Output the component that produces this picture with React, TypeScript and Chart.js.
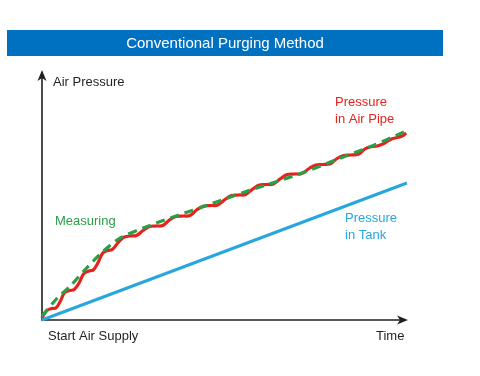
import React, { useEffect, useRef } from "react";
import { Chart, registerables } from "chart.js";

Chart.register(...registerables);

// Pressure in air pipe (wavy red line): time 0-100, pressure 0-100 (arbitrary units)
const pipeTime = [
  0, 1.2, 2.6, 3.8, 5.0, 6.2, 7.6, 8.8, 10.2, 11.4, 12.8, 14.0, 15.4, 16.6, 18.0, 19.2,
  20.8, 22.2, 24.0, 25.8, 27.6, 29.4, 31.2, 33.0, 34.8, 36.6, 38.6, 40.4, 42.4, 44.2,
  46.2, 48.0, 50.0, 51.8, 53.8, 55.6, 57.6, 59.4, 61.4, 63.2, 65.2, 67.0, 69.0, 71.0,
  73.0, 74.8, 76.8, 78.8, 80.6, 82.4, 84.4, 86.4, 88.2, 89.8, 91.6, 93.4, 95.2, 96.8,
  98.4, 99.5,
];
const pipePressure = [
  0.8, 3.6, 4.6, 4.8, 7.5, 11.0, 11.8, 12.2, 15.0, 18.5, 19.6, 20.0, 23.2, 26.8, 27.8, 28.2,
  31.0, 33.0, 33.6, 33.8, 35.8, 37.4, 37.6, 37.8, 40.0, 41.4, 41.6, 41.8, 44.2, 45.6,
  45.8, 46.0, 48.2, 49.8, 50.0, 50.2, 52.4, 54.0, 54.2, 54.4, 56.6, 58.2, 58.4, 58.6,
  60.6, 62.0, 62.2, 62.5, 64.6, 65.8, 66.0, 66.3, 68.4, 69.3, 69.6, 70.6, 72.2, 72.9,
  73.6, 74.8,
];

// Measuring (green dashed line)
const measTime = [0, 4, 8, 12, 16, 21, 28, 37, 45, 55, 64, 72, 81, 90, 99];
const measPressure = [1.5, 8.5, 14, 20.5, 26.5, 32.5, 37, 41.8, 45.8, 51, 55.3, 59.3, 64.5, 69.5, 75.3];

// Pressure in tank (blue straight line)
const tankTime = [0, 99.7];
const tankPressure = [0, 54.8];

const titleText = "Conventional Purging Method";
const yAxisLabel = "Air Pressure";
const xStartLabel = "Start Air Supply";
const xEndLabel = "Time";
const measLabel = ["Measuring"];
const pipeLabel = ["Pressure", "in Air Pipe"];
const tankLabel = ["Pressure", "in Tank"];

const FONT = '"Liberation Sans", Arial, Helvetica, sans-serif';
const AXIS_COLOR = "#231f20";
const RED = "#e5231d";
const GREEN = "#2b9e48";
const BLUE = "#29a6df";
const TITLE_BG = "#0070c0";

function zip(xs: number[], ys: number[]) {
  return xs.map((x, i) => ({ x, y: ys[i] }));
}

const decorPlugin = {
  id: "decor",
  beforeDraw(chart: any) {
    const ctx = chart.ctx as CanvasRenderingContext2D;
    ctx.save();
    ctx.fillStyle = "#ffffff";
    ctx.fillRect(0, 0, chart.width, chart.height);
    // title bar
    ctx.fillStyle = TITLE_BG;
    ctx.fillRect(7, 30, 436, 26);
    ctx.fillStyle = "#ffffff";
    ctx.font = `15px ${FONT}`;
    ctx.textAlign = "center";
    ctx.textBaseline = "middle";
    ctx.fillText(titleText, 225, 44);
    ctx.restore();
  },
  beforeDatasetsDraw(chart: any) {
    const ctx = chart.ctx as CanvasRenderingContext2D;
    const a = chart.chartArea;
    ctx.save();
    ctx.strokeStyle = AXIS_COLOR;
    ctx.fillStyle = AXIS_COLOR;
    ctx.lineWidth = 1.6;
    ctx.beginPath();
    ctx.moveTo(a.left, a.top + 6);
    ctx.lineTo(a.left, a.bottom);
    ctx.lineTo(a.right - 6, a.bottom);
    ctx.stroke();
    // y arrow
    ctx.beginPath();
    ctx.moveTo(a.left, a.top);
    ctx.lineTo(a.left + 4.5, a.top + 11);
    ctx.lineTo(a.left, a.top + 8);
    ctx.lineTo(a.left - 4.5, a.top + 11);
    ctx.closePath();
    ctx.fill();
    // x arrow
    ctx.beginPath();
    ctx.moveTo(a.right, a.bottom);
    ctx.lineTo(a.right - 11, a.bottom - 4.5);
    ctx.lineTo(a.right - 8, a.bottom);
    ctx.lineTo(a.right - 11, a.bottom + 4.5);
    ctx.closePath();
    ctx.fill();

    ctx.font = `13px ${FONT}`;
    ctx.textAlign = "left";
    ctx.textBaseline = "middle";
    ctx.fillStyle = AXIS_COLOR;
    ctx.fillText(yAxisLabel, a.left + 11, a.top + 12);
    ctx.fillText(xStartLabel, a.left + 6, a.bottom + 16);
    ctx.fillText(xEndLabel, a.right - 32, a.bottom + 16);

    const drawLines = (lines: string[], color: string, x: number, y: number) => {
      ctx.fillStyle = color;
      lines.forEach((t, i) => ctx.fillText(t, x, y + i * 17));
    };
    drawLines(measLabel, GREEN, 55, 221);
    drawLines(pipeLabel, RED, 335, 102);
    drawLines(tankLabel, BLUE, 345, 218);
    ctx.restore();
  },
};

export default function App() {
  const ref = useRef<HTMLCanvasElement | null>(null);
  useEffect(() => {
    if (!ref.current) return;
    const chart = new Chart(ref.current, {
      type: "line",
      data: {
        datasets: [
          {
            label: "Pressure in Tank",
            data: zip(tankTime, tankPressure),
            borderColor: BLUE,
            borderWidth: 3,
            pointRadius: 0,
            tension: 0,
            clip: false,
          } as any,
          {
            label: "Measuring",
            data: zip(measTime, measPressure),
            borderColor: GREEN,
            borderWidth: 3.2,
            borderDash: [9, 6],
            pointRadius: 0,
            tension: 0.3,
            clip: false,
          } as any,
          {
            label: "Pressure in Air Pipe",
            data: zip(pipeTime, pipePressure),
            borderColor: RED,
            borderWidth: 3.2,
            pointRadius: 0,
            tension: 0.4,
            clip: false,
          } as any,
        ],
      },
      options: {
        responsive: false,
        animation: false,
        layout: { padding: { left: 42, right: 72, top: 70, bottom: 56 } },
        plugins: { legend: { display: false }, tooltip: { enabled: false } },
        scales: {
          x: { type: "linear", min: 0, max: 100, display: false },
          y: { type: "linear", min: 0, max: 100, display: false },
        },
      },
      plugins: [decorPlugin],
    });
    return () => chart.destroy();
  }, []);
  return (
    <div style={{ position: "absolute", left: 0, top: 0, width: 480, height: 376, background: "#fff" }}>
      <canvas ref={ref} width={480} height={376} style={{ display: "block" }} />
    </div>
  );
}
